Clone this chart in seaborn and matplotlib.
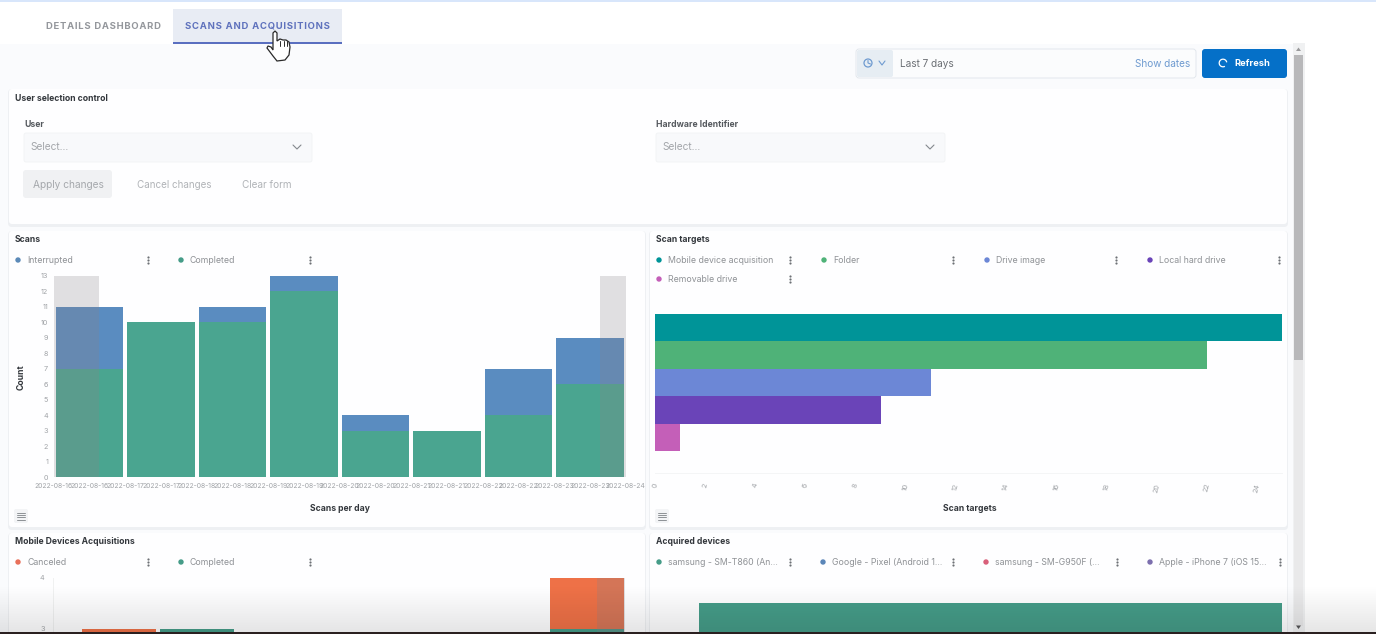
import matplotlib
matplotlib.use("Agg")
import matplotlib.pyplot as plt
import numpy as np
import seaborn as sns
from matplotlib.patches import Arc, Circle, FancyBboxPatch, Polygon, Rectangle

W, H = 1376, 634

# scans per day
scan_days = ["08-16", "08-17", "08-18", "08-19", "08-20", "08-21", "08-22", "08-23"]
scan_totals = [11, 10, 11, 13, 4, 3, 7, 9]
scan_completed = [7, 10, 10, 12, 3, 3, 4, 6]
scan_tick_labels = ["2022-08-16", "2022-08-16", "2022-08-17", "2022-08-17", "2022-08-18", "2022-08-18",
                    "2022-08-19", "2022-08-19", "2022-08-20", "2022-08-20", "2022-08-21", "2022-08-21",
                    "2022-08-22", "2022-08-22", "2022-08-23", "2022-08-23", "2022-08-24"]
scan_yticks = list(range(14))

# scan targets
target_names = ["Mobile device acquisition", "Folder", "Drive image", "Local hard drive", "Removable drive"]
target_counts = [25, 22, 11, 9, 1]
target_colors = ["#009498", "#4fb278", "#6c87d6", "#6a44b8", "#c45fb8"]
target_xticks = list(range(0, 25, 2))

# the lower two charts run off the screen, hidden bars are left at 0
acq_slots = ["a", "b", "c", "d", "e", "f", "g"]
acq_totals = [3, 3, 0, 0, 0, 0, 4]
acq_completed = [0, 3, 0, 0, 0, 0, 3]
device_names = ["samsung - SM-T860 (An...", "Google - Pixel (Android 1...", "samsung - SM-G950F (...", "Apple - iPhone 7 (iOS 15..."]
device_counts = [12, 0, 0, 0]
device_colors = ["#459c88", "#5b86b8", "#d9607a", "#7c6fae"]

BLUE = "#5a8cc0"
GREEN = "#4aa590"
ORANGE = "#ee7147"
TEAL = "#459c88"
GREY_TEXT = "#8f9296"
DARK_TEXT = "#33373c"
OUT_OF_RANGE = "#8a8488"

sns.set_theme(style="white")
plt.rcParams["font.family"] = ["Inter", "DejaVu Sans"]

fig = plt.figure(figsize=(W / 100, H / 100), dpi=100, facecolor="white")
bg = fig.add_axes([0, 0, 1, 1], zorder=0)
bg.set_xlim(0, W)
bg.set_ylim(H, 0)
bg.axis("off")


def chart_axes(left, top, right, bottom):
    ax = fig.add_axes([left / W, 1 - bottom / H, (right - left) / W, (bottom - top) / H], zorder=2)
    ax.set_facecolor("none")
    sns.despine(ax=ax, left=True, bottom=True)
    return ax


def box(x0, y0, x1, y1, color, edge="none", round_px=0.0, z=1):
    if round_px:
        patch = FancyBboxPatch((x0, y0), x1 - x0, y1 - y0, boxstyle=f"round,pad=0,rounding_size={round_px}",
                               fc=color, ec=edge, lw=0.6, zorder=z)
    else:
        patch = Rectangle((x0, y0), x1 - x0, y1 - y0, fc=color, ec=edge, lw=0.6, zorder=z)
    bg.add_patch(patch)


def label(x, y, s, size=6.3, color=GREY_TEXT, ha="left", weight="normal", **kw):
    bg.text(x, y + 0.7, s, fontsize=size, color=color, ha=ha, va="center", fontweight=weight, zorder=6, **kw)


def panel(x0, y0, x1, y1):
    box(x0 - 1, y0, x1 + 1, y1 + 3, "#eef0f3", round_px=4, z=1)
    box(x0, y0, x1, y1, "#fefeff", round_px=3, z=2)


def kebab(x, y):
    bg.scatter([x, x, x], [y - 3, y, y + 3], s=2.5, color="#6d7075", linewidths=0, zorder=6)


def legend_item(dot_x, y, text, color, kebab_x):
    bg.add_patch(Circle((dot_x, y), 2.7, fc=color, ec="none", zorder=6))
    label(dot_x + 9, y, text)
    kebab(kebab_x, y)


def chevron(x, y, color="#85898e", half=4.0):
    bg.plot([x - half, x, x + half], [y - 2, y + 2, y - 2], color=color, lw=0.8, zorder=6)


def list_icon(x, y):
    box(x - 7, y - 7, x + 7, y + 7, "#f3f4f6", round_px=2, z=3)
    for dy in (-3.5, -1.2, 1.2, 3.5):
        bg.plot([x - 4, x + 4], [y + dy, y + dy], color="#8d9196", lw=0.7, zorder=6)


def spaced(s):
    return "\u200a".join(s)


# page background and top bar
box(0, 44, 1305, H, "#fafbfd")
box(0, 0, W, 1.5, "#d8e6fb", z=2)

# tabs
box(173, 9, 342, 42, "#e8ecf4", z=2)
box(173, 41.5, 342, 43.5, "#5a6fc0", z=3)
label(103, 25.5, spaced("DETAILS DASHBOARD"), size=6.8, color="#94979c", ha="center", weight="bold")
label(257, 25.5, spaced("SCANS AND ACQUISITIONS"), size=6.85, color="#5f72bd", ha="center", weight="bold")

# date picker and refresh button
box(856, 49, 1196, 78, "#fbfcfd", edge="#dfe4ea", round_px=3, z=2)
box(857, 50, 893, 77, "#e6edf3", round_px=2, z=3)
bg.add_patch(Circle((868, 63), 4, fc="none", ec="#6f9bd0", lw=0.9, zorder=6))
bg.plot([868, 868, 870.5], [60.5, 63, 64], color="#6f9bd0", lw=0.8, zorder=6)
chevron(882, 63, "#6f9bd0", half=3)
label(900, 63, "Last 7 days", size=7.2, color="#6a6e73")
label(1190, 63, "Show dates", size=7.2, color="#6f9bd0", ha="right")
box(1202, 49, 1287, 78, "#0570c8", round_px=3, z=2)
bg.add_patch(Arc((1223, 63), 7.6, 7.6, theta1=60, theta2=350, ec="white", lw=0.9, zorder=6))
label(1234, 63, "Refresh", size=6.7, color="white", weight="bold")

# scrollbar
box(1293, 43, 1305, 632, "#f0f1f2", z=2)
box(1294, 55, 1303, 360, "#b8b8ba", z=3)
box(1294, 360, 1303, 626, "#e9e9ea", z=3)
bg.add_patch(Polygon([[1296, 51], [1298.5, 47.5], [1301, 51]], fc="#9a9a9c", ec="none", zorder=4))
bg.add_patch(Polygon([[1296, 625.5], [1298.5, 629], [1301, 625.5]], fc="#555557", ec="none", zorder=4))

# user selection panel
panel(9, 89, 1287, 224)
label(15, 97.5, "User selection control", size=6.2, color=DARK_TEXT, weight="bold")
label(24, 123.5, "User", size=6.2, color="#55595e", weight="bold")
label(656, 123.5, "Hardware Identifier", size=6.2, color="#55595e", weight="bold")
for x0, x1 in [(24, 312), (656, 945)]:
    box(x0, 133, x1, 162, "#f8f9fb", edge="#f1f3f5", round_px=2, z=3)
    label(x0 + 6, 146.5, "Select...", size=7.3, color="#a3a6aa")
    chevron(x1 - 15, 147)
box(23, 170, 112, 198, "#f0f1f3", round_px=3, z=3)
label(68, 184, "Apply changes", size=7.3, color="#a5a8ac", ha="center")
label(174, 184, "Cancel changes", size=7.1, color="#b0b3b7", ha="center")
label(267, 184, "Clear form", size=7.2, color="#b0b3b7", ha="center")

# chart panels
panel(9, 231, 645, 527)
panel(650, 231, 1287, 527)
panel(9, 533, 645, 680)
panel(650, 533, 1287, 680)

label(15, 239, "Scans", size=6.2, color=DARK_TEXT, weight="bold")
legend_item(18, 260, "Interrupted", "#5b8ab8", 148)
legend_item(181, 260, "Completed", TEAL, 310)
label(21, 376, "Count", size=6.2, color=DARK_TEXT, weight="bold", rotation=90, ha="center")
label(340, 508, "Scans per day", size=6.2, color=DARK_TEXT, weight="bold", ha="center")
list_icon(21, 516)

label(656, 239, "Scan targets", size=6.2, color=DARK_TEXT, weight="bold")
legend_dots = [(659, 260, 790), (824, 260, 953), (987, 260, 1116), (1150, 260, 1279), (659, 279, 790)]
for name, color, (dot_x, y, kebab_x) in zip(target_names, target_colors, legend_dots):
    legend_item(dot_x, y, name, color, kebab_x)
label(970, 508, "Scan targets", size=6.2, color=DARK_TEXT, weight="bold", ha="center")
list_icon(662, 516)

label(15, 541, "Mobile Devices Acquisitions", size=6.2, color=DARK_TEXT, weight="bold")
legend_item(18, 562, "Canceled", "#e8705a", 148)
legend_item(181, 562, "Completed", TEAL, 310)

label(656, 541, "Acquired devices", size=6.2, color=DARK_TEXT, weight="bold")
for name, color, dot_x, kebab_x in zip(device_names, device_colors, [659, 823, 986, 1150], [790, 953, 1117, 1280]):
    legend_item(dot_x, 562, name, color, kebab_x)

# Scans
ax = chart_axes(53.75, 276, 625.75, 477)
sns.barplot(x=scan_days, y=scan_totals, color=BLUE, saturation=1, width=0.95, linewidth=0, ax=ax)
sns.barplot(x=scan_days, y=scan_completed, color=GREEN, saturation=1, width=0.95, linewidth=0, ax=ax)
ax.set_xticks(np.arange(-0.5, 8, 0.5), scan_tick_labels)
ax.set_yticks(scan_yticks)
ax.set_xlim(-0.5, 7.5)
ax.set_ylim(0, 13)
ax.set_xlabel("")
ax.set_ylabel("")
ax.tick_params(length=0, labelsize=5.2, labelcolor="#a0a3a7", pad=4)
ax.tick_params(axis="x", labelsize=4.9)
ax.axvspan(-0.5, 0.13, color=OUT_OF_RANGE, alpha=0.25, lw=0, zorder=5)
ax.axvspan(7.14, 7.5, color=OUT_OF_RANGE, alpha=0.25, lw=0, zorder=5)

# Scan targets
ax = chart_axes(655, 292, 1282, 473)
sns.barplot(y=target_names, x=target_counts, hue=target_names, palette=target_colors, saturation=1,
            width=1, dodge=False, legend=False, linewidth=0, orient="h", ax=ax)
ax.set_xlim(0, 25)
ax.set_ylim(5.3, -1.3)
ax.set_xticks(target_xticks)
ax.set_yticks([])
ax.set_xlabel("")
ax.set_ylabel("")
ax.tick_params(length=0, labelsize=5.2, labelcolor="#a0a3a7", pad=7, labelrotation=75)
ax.spines["bottom"].set_visible(True)
ax.spines["bottom"].set_color("#f4f5f6")
ax.spines["bottom"].set_linewidth(0.7)

# Mobile Devices Acquisitions
ax = chart_axes(53, 578, 625, 780)
sns.barplot(x=acq_slots, y=acq_totals, color=ORANGE, saturation=1, width=0.95, linewidth=0, ax=ax)
sns.barplot(x=acq_slots, y=acq_completed, color=TEAL, saturation=1, width=0.95, linewidth=0, ax=ax)
ax.set_xlim(-0.846, 6.49)
ax.set_ylim(0, 4)
ax.set_yticks([3, 4])
ax.set_xticks([])
ax.set_xlabel("")
ax.set_ylabel("")
ax.tick_params(length=0, labelsize=5.2, labelcolor="#a0a3a7", pad=6)
ax.spines["left"].set_visible(True)
ax.spines["left"].set_color("#f0f1f1")
ax.spines["left"].set_linewidth(0.7)
ax.axvspan(6.13, 6.49, color=OUT_OF_RANGE, alpha=0.25, lw=0, zorder=5)

# Acquired devices
ax = chart_axes(699, 603, 1282, 923)
sns.barplot(y=device_names, x=device_counts, hue=device_names, palette=device_colors, saturation=1,
            width=1, dodge=False, legend=False, linewidth=0, orient="h", ax=ax)
ax.set_xlim(0, 12)
ax.set_ylim(3.5, -0.5)
ax.set_xticks([])
ax.set_yticks([])
ax.set_xlabel("")
ax.set_ylabel("")

# hand cursor over the active tab
hand = [[273, 33], [275, 31], [277, 33], [277, 41], [280, 39], [283, 40], [286, 40], [289, 42], [290, 47],
        [289, 55], [285, 60], [277, 61], [273, 56], [267, 48], [268, 46], [271, 47], [273, 50]]
bg.add_patch(Polygon(hand, fc="white", ec="#2a2a2a", lw=0.9, zorder=7))
for x in (280, 283.5, 287):
    bg.plot([x, x], [41, 46], color="#2a2a2a", lw=0.7, zorder=7)

# video player shade along the bottom edge
top = fig.add_axes([0, 0, 1, 1], zorder=5)
top.set_xlim(0, W)
top.set_ylim(H, 0)
top.axis("off")
shade = np.zeros((64, 1, 4))
shade[:, :, 3] = np.linspace(0, 0.1, 64)[:, None]
top.imshow(shade, extent=(0, W, 632, 585), aspect="auto", zorder=1)
top.add_patch(Rectangle((0, 632), W, 2, fc="#2a2020", ec="none", zorder=2))
top.set_xlim(0, W)
top.set_ylim(H, 0)

fig.savefig("out.png", dpi=100)
